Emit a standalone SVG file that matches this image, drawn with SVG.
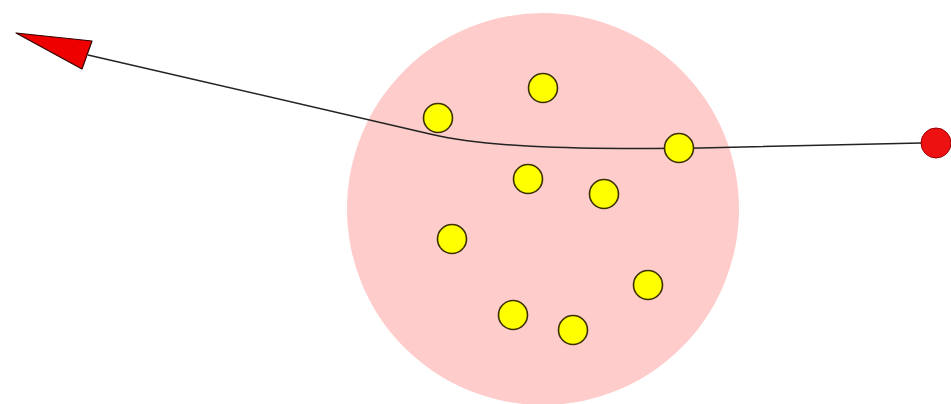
<svg xmlns="http://www.w3.org/2000/svg" width="951" height="404" viewBox="0 0 951 404">
<style>
.dot{fill:#ffff00;stroke:#3a3000;stroke-width:1.6}
.conn{fill:none;stroke:#222;stroke-width:1.5}
</style>
<rect width="951" height="404" fill="#ffffff"/>
<g id="region"><circle cx="543" cy="209" r="196" fill="#ffcccc"/></g>
<g id="connectors">
<path class="conn" d="M921,143 L700,148 C560,150 480,146 430,134 L88,55"/>
<polygon points="16,33 92,41 82,69" fill="#ee0000" stroke="#330000" stroke-width="1.2" stroke-linejoin="round"/>
</g>
<g id="source"><circle cx="936" cy="143" r="15" fill="#ee1111" stroke="#990000" stroke-width="1"/></g>
<g id="p1"><circle class="dot" cx="543" cy="88" r="14.5"/></g>
<g id="p2"><circle class="dot" cx="438" cy="118" r="14.5"/></g>
<g id="p3"><circle class="dot" cx="679" cy="148" r="14.5"/></g>
<g id="p4"><circle class="dot" cx="528" cy="179" r="14.5"/></g>
<g id="p5"><circle class="dot" cx="604" cy="194" r="14.5"/></g>
<g id="p6"><circle class="dot" cx="452" cy="239" r="14.5"/></g>
<g id="p7"><circle class="dot" cx="648" cy="285" r="14.5"/></g>
<g id="p8"><circle class="dot" cx="513" cy="315" r="14.5"/></g>
<g id="p9"><circle class="dot" cx="573" cy="330" r="14.5"/></g>
</svg>
